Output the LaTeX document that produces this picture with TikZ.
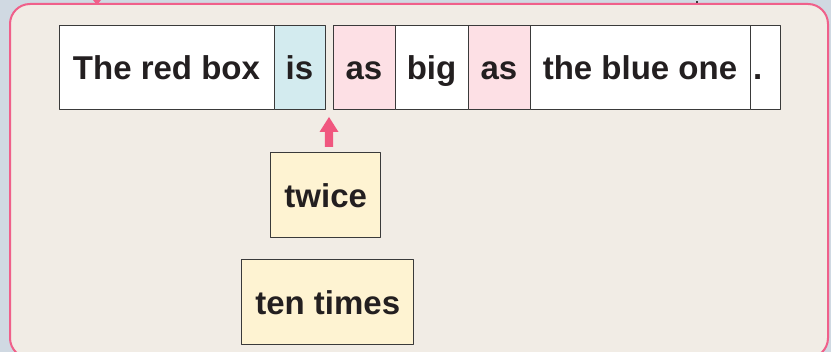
\documentclass[tikz,border=0pt]{standalone}
\usepackage{fontspec}
\setmainfont{Liberation Sans}
\usetikzlibrary{positioning,calc}
\definecolor{bgblue}{HTML}{D0D9E2}
\definecolor{paper}{HTML}{F1ECE5}
\definecolor{framepink}{HTML}{F0608A}
\definecolor{arrowpink}{HTML}{F0577F}
\definecolor{isblue}{HTML}{D3EBEF}
\definecolor{aspink}{HTML}{FDE0E5}
\definecolor{cardyellow}{HTML}{FEF3D2}
\definecolor{boxline}{HTML}{3A3A3A}
\definecolor{ink}{HTML}{231F20}
\tikzset{
  wordbox/.style={draw=boxline,line width=1pt,fill=white,minimum height=84pt,
    inner sep=0pt,outer sep=0pt,text height=24pt,text depth=0pt,text=ink,
    font=\fontsize{33}{33}\selectfont\bfseries},
  cardbox/.style={wordbox,fill=cardyellow,minimum height=85pt,anchor=north west}
}
\begin{document}
\begin{tikzpicture}[x=1pt,y=-1pt,line join=round,line cap=round]
				\useasboundingbox (0,0) rectangle (831,352);
				\fill[bgblue] (0,0) rectangle (831,352);
				\draw[framepink,line width=2pt,fill=paper,rounded corners=20pt] (10,4) rectangle (828,358);
				\fill[framepink] (93,0)--(101,0)--(97,5)--cycle;
				\fill[boxline] (696,1) rectangle (698,3);
				\node[wordbox,anchor=north west,minimum width=215pt] (redbox) at (59,26) {The red box};
				\node[wordbox,fill=isblue,minimum width=51pt,right=0pt of redbox] (is) {is};
				\node[wordbox,fill=aspink,minimum width=62pt,right=8pt of is] (asa) {as};
				\node[wordbox,minimum width=73pt,right=0pt of asa] (big) {big};
				\node[wordbox,fill=aspink,minimum width=62pt,right=0pt of big] (asb) {as};
				\node[wordbox,minimum width=220pt,right=0pt of asb] (blueone) {the blue one};
				\node[wordbox,minimum width=30pt,text width=24pt,align=left,right=0pt of blueone] (stop) {.};
				\coordinate (slot) at ($(is.south east)!.5!(asa.south west)$);
				\fill[arrowpink] ($(slot)+(0,7)$)--++(9.5,15)--++(-5.3,0)--++(0,15)--++(-8.4,0)--++(0,-15)--++(-5.3,0)--cycle;
				\node[cardbox,minimum width=110pt] (twice) at (270.7,152.7) {twice};
				\node[cardbox,minimum width=172pt] (tentimes) at (241.7,260) {ten times};
			\end{tikzpicture}
\end{document}
